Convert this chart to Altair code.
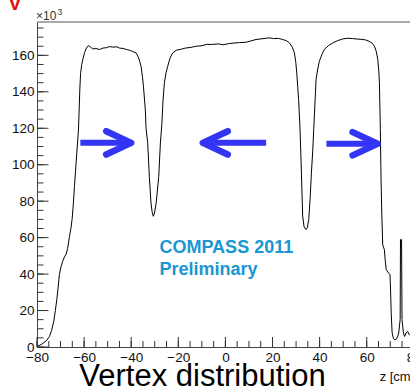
import altair as alt
import pandas as pd

# Vertex z position (cm) and entries (x10^3) of the target-region histogram
z_pos = [
    -80, -78, -76, -74.7, -73.8, -72.9, -72.2, -71.6, -71.0, -70.5, -69.8, -69.1,
    -68.3, -67.6, -67.0, -66.2, -65.6, -65.1, -64.6, -64.1, -63.6, -63.1, -62.4,
    -62.1, -61.8, -61.5, -61.0, -60.5, -59.8, -59.2, -58.5, -58.0, -57.2, -56.3,
    -55.0, -53.5, -52.0, -50.5, -49.3, -47.5, -46.0, -45.0, -43.5, -42.0, -40.8,
    -39.5, -37.9, -36.8, -35.8, -35.2, -34.8, -34.3, -34.0, -33.7, -33.0, -32.3,
    -31.6, -31.1, -30.6, -30.1, -29.4, -28.3, -27.6, -27.0, -26.5, -25.9, -25.2,
    -24.5, -23.5, -22.4, -20.9, -19.0, -17.0, -15.0, -12.4, -10.0, -8.0, -5.4,
    -3.0, -1.0, 1.7, 4.0, 6.0, 8.8, 10.5, 13.0, 15.0, 17.3, 18.7, 20.5, 22.5,
    24.3, 26.0, 27.2, 28.4, 29.3, 29.9, 30.3, 30.7, 31.1, 31.7, 32.3, 32.8, 33.4,
    34.2, 34.8, 35.4, 36.0, 36.5, 37.1, 37.5, 38.1, 38.5, 39.2, 39.9, 41.0, 42.0,
    43.7, 45.6, 47.5, 49.8, 52.0, 54.0, 55.5, 57.5, 59.5, 61.1, 62.3, 63.3, 64.1,
    64.7, 65.1, 65.4, 65.6, 65.8, 66.0, 66.1, 66.4, 66.8, 67.5, 67.9, 68.3, 69.3,
    69.9, 70.2, 70.4, 70.8, 71.3, 71.8, 72.5, 73.1, 73.6, 74.2, 74.35, 74.8, 75.0,
    75.6, 76.1, 76.7, 77.4, 78.1, 79.0, 80.0,
]
entries = [
    0.3, 1.5, 3.5, 5.8, 9.0, 14.0, 20.0, 26.0, 33.0, 39.7, 44.0, 47.0,
    49.5, 51.0, 54.0, 60.7, 65.0, 70.0, 78.0, 88.0, 97.0, 106.5, 119.0,
    130.0, 142.0, 150.0, 155.0, 158.0, 161.5, 163.5, 165.0, 165.3, 164.5, 163.5,
    163.8, 163.2, 164.0, 164.2, 164.8, 164.5, 164.7, 164.0, 163.8, 163.2, 162.8,
    162.2, 161.3, 158.5, 154.0, 148.0, 143.0, 135.0, 130.0, 120.0, 112.0, 93.6,
    79.0, 74.0, 71.7, 73.5, 79.0, 93.6, 112.0, 122.0, 135.0, 145.0, 150.5,
    154.0, 158.5, 161.3, 162.8, 163.3, 164.0, 164.3, 165.0, 165.3, 166.0, 166.0,
    166.3, 165.8, 166.5, 166.8, 167.0, 167.2, 167.8, 168.7, 169.0, 169.4, 169.6, 169.2, 169.3,
    168.7, 168.0, 166.8, 164.5, 161.4, 156.0, 150.4, 143.0, 135.7, 119.3, 95.0, 72.0, 66.0,
    64.4, 65.5, 70.0, 82.0, 95.0, 108.0, 119.3, 135.7, 146.7, 152.5, 156.8, 160.5, 163.2,
    165.3, 166.8, 168.0, 169.0, 169.4, 169.2, 169.0, 168.8, 168.5, 167.7, 166.7, 165.0, 162.0,
    157.7, 152.0, 145.0, 132.0, 119.3, 100.0, 91.8, 73.5, 56.1, 53.4, 47.0, 42.4, 40.6,
    39.7, 28.0, 18.7, 7.7, 4.9, 4.0, 4.2, 5.5, 7.7, 15.0, 58.9, 58.9, 15.0,
    7.7, 5.8, 7.7, 8.6, 6.7, 7.0, 6.0,
]

# Axis tick values
x_major = [-80, -60, -40, -20, 0, 20, 40, 60, 80]
x_minor = list(range(-80, 81, 5))
y_major = [0, 20, 40, 60, 80, 100, 120, 140, 160]
y_minor = list(range(0, 176, 5))

# Beam-direction arrows: start z, tip z, level
arrow_start = [-61.6, 17.3, 42.9]
arrow_tip = [-40.0, -9.6, 64.6]
arrow_level = [112.0, 112.0, 111.5]

W, H = 373, 325
X_RANGE = 376.8
FONT = "Liberation Sans"
BLUE_ARROW = "#3434f4"

xs = alt.Scale(domain=[-80, 80], range=[0, X_RANGE], nice=False, zero=False)
ys = alt.Scale(domain=[0, 178.3], nice=False, zero=False)

AX_X = alt.Axis(
    values=x_major, ticks=False, grid=False, domainColor="#444", domainWidth=1,
    labelFont=FONT, labelFontSize=13.5, labelColor="#111", labelPadding=3.5,
    labelFlush=False, labelOverlap=False,
    title="z [cm]", titleFont=FONT, titleFontSize=13, titleFontWeight="normal",
    titleColor="#111", titleX=X_RANGE, titleY=33, titleAlign="right",
    titleBaseline="alphabetic")
AX_Y = alt.Axis(
    values=y_major, ticks=False, grid=False, domainColor="#444", domainWidth=1,
    labelFont=FONT, labelFontSize=13.5, labelColor="#111", labelPadding=3,
    labelFlush=False, labelOverlap=False, title=None)


def X(field):
    return alt.X(field, type="quantitative", scale=xs, axis=AX_X)


def Y(field):
    return alt.Y(field, type="quantitative", scale=ys, axis=AX_Y)


hist_df = pd.DataFrame({"z": z_pos, "c": entries})
hist = alt.Chart(hist_df).mark_line(color="black", strokeWidth=1.0, clip=True).encode(
    x=X("z"), y=Y("c"))


# Inward-pointing ticks
def x_ticks(vals, length):
    return alt.Chart(pd.DataFrame({"z": vals})).mark_rule(color="#333", strokeWidth=1).encode(
        x=X("z"), y=alt.value(H), y2=alt.value(H - length))


def y_ticks(vals, length):
    return alt.Chart(pd.DataFrame({"c": vals})).mark_rule(color="#333", strokeWidth=1).encode(
        y=Y("c"), x=alt.value(0), x2=alt.value(length))


frame_top = alt.Chart(pd.DataFrame({"k": [0]})).mark_rule(color="#555", strokeWidth=1).encode(
    x=alt.value(0), x2=alt.value(X_RANGE), y=alt.value(0))

# Arrows
shaft_df = pd.DataFrame({"z": arrow_start, "z1": arrow_tip, "c": arrow_level})
shafts = alt.Chart(shaft_df).mark_rule(color=BLUE_ARROW, strokeWidth=6, strokeCap="butt").encode(
    x=X("z"), x2="z1:Q", y=Y("c"))

head_rows = []
for i, (s, t, lv) in enumerate(zip(arrow_start, arrow_tip, arrow_level)):
    d = 1 if t > s else -1
    back = t - d * 10.6
    head_rows += [
        {"id": i, "k": 0, "z": back, "c": lv + 6.4},
        {"id": i, "k": 1, "z": t, "c": lv},
        {"id": i, "k": 2, "z": back, "c": lv - 6.4},
    ]
heads = alt.Chart(pd.DataFrame(head_rows)).mark_line(
    color=BLUE_ARROW, strokeWidth=6.5, strokeCap="round", strokeJoin="round").encode(
    x=X("z"), y=Y("c"), detail="id:N", order="k:Q")

# Collaboration label
label_df = pd.DataFrame({"z": [-28.0, -28.0], "c": [51.6, 39.7],
                         "t": ["COMPASS 2011", "Preliminary"]})
labels = alt.Chart(label_df).mark_text(
    font=FONT, fontSize=18, fontWeight="bold", color="#1996d3",
    align="left", baseline="alphabetic").encode(
    x=X("z"), y=Y("c"), text="t:N")

caption = alt.Chart(pd.DataFrame({"t": ["Vertex distribution"]})).mark_text(
    font=FONT, fontSize=31, color="black", align="center", baseline="alphabetic").encode(
    x=alt.value(165.5), y=alt.value(364), text="t:N")

# y-axis scale factor (x10^3) above the axis
exp_base = alt.Chart(pd.DataFrame({"t": ["×10"]})).mark_text(
    font=FONT, fontSize=12, color="#333", align="left", baseline="alphabetic").encode(
    x=alt.value(-1), y=alt.value(-2), text="t:N")
exp_power = alt.Chart(pd.DataFrame({"t": ["3"]})).mark_text(
    font=FONT, fontSize=8.5, color="#333", align="left", baseline="alphabetic").encode(
    x=alt.value(20.5), y=alt.value(-7), text="t:N")

corner = alt.Chart(pd.DataFrame({"t": ["V"]})).mark_text(
    font=FONT, fontSize=20, fontWeight="bold", color="#e3120b",
    align="center", baseline="alphabetic").encode(
    x=alt.value(-22), y=alt.value(-12), text="t:N")

chart = alt.layer(
    hist,
    x_ticks(x_minor, 6), x_ticks(x_major, 10),
    y_ticks(y_minor, 6.5), y_ticks(y_major, 11.5),
    frame_top, shafts, heads, labels, caption, exp_base, exp_power, corner,
).properties(
    width=W, height=H,
    padding={"left": 37, "top": 22, "right": 0, "bottom": 39},
    autosize=alt.AutoSizeParams(type="none"),
).configure_view(stroke=None)

chart.save("out.html", embed_options={"renderer": "svg", "actions": False})
